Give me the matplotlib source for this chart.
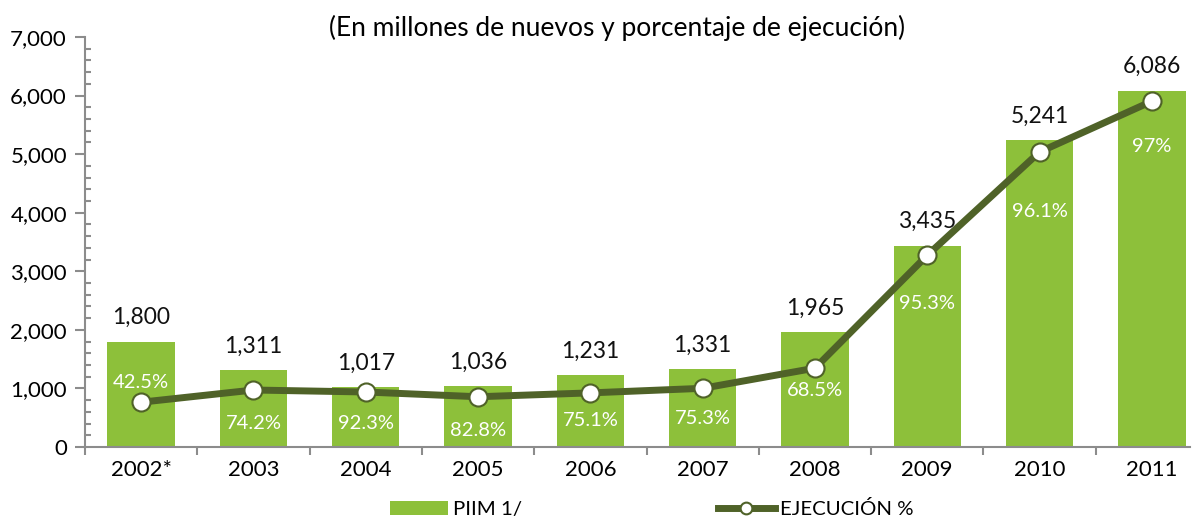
import matplotlib
matplotlib.use("Agg")
import matplotlib.pyplot as plt
from matplotlib.ticker import FuncFormatter, MultipleLocator, FixedLocator

plt.rcParams['font.family'] = ['Lato', 'DejaVu Sans']

years = ["2002*", "2003", "2004", "2005", "2006", "2007", "2008", "2009", "2010", "2011"]
piim = [1800, 1311, 1017, 1036, 1231, 1331, 1965, 3435, 5241, 6086]
ejecucion = [765, 973, 939, 858, 924, 1002, 1346, 3273, 5037, 5903]
pct_labels = ["42.5%", "74.2%", "92.3%", "82.8%", "75.1%", "75.3%", "68.5%", "95.3%", "96.1%", "97%"]

# vertical offsets (pixels) of the white % labels relative to the line markers
pct_offsets = [20, -33, -31, -34, -28, -30, -22, -48, -60, -45]

BAR_GREEN = "#8dc03a"
LINE_GREEN = "#4f6228"
AXIS_GRAY = "#8c8c8c"

fig = plt.figure(figsize=(11.98, 5.19), dpi=100)
ax = fig.add_axes([85 / 1198, 72 / 519, (1190 - 85) / 1198, (447 - 37) / 519])

x = list(range(len(years)))
bars = ax.bar(x, piim, width=0.6, color=BAR_GREEN, label="PIIM 1/", zorder=2)
line, = ax.plot(x, ejecucion, color=LINE_GREEN, lw=5, marker="o", markersize=13,
                markerfacecolor="white", markeredgecolor=LINE_GREEN, markeredgewidth=1.5,
                label="EJECUCIÓN %", zorder=3)

px = 72 / 100  # points per pixel
for i, v in enumerate(piim):
    ax.annotate(f"{v:,}", (x[i], v), xytext=(0, 24 * px), textcoords="offset points",
                ha="center", va="center", fontsize=16.5, color="#111111")
for i, v in enumerate(ejecucion):
    ax.annotate(pct_labels[i], (x[i], v), xytext=(0, pct_offsets[i] * px), textcoords="offset points",
                ha="center", va="center", fontsize=14.5, color="white", zorder=4)

ax.set_xlim(-0.5, -0.5 + (1190 - 85) / 112.3)
ax.set_ylim(0, 7000)
ax.yaxis.set_major_locator(MultipleLocator(1000))
ax.yaxis.set_minor_locator(MultipleLocator(200))
ax.yaxis.set_major_formatter(FuncFormatter(lambda v, p: f"{int(v):,}"))

ax.set_xticks(x)
ax.set_xticklabels(years)
ax.xaxis.set_minor_locator(FixedLocator([i - 0.5 for i in range(len(years) + 1)]))
ax.tick_params(axis="x", which="major", length=0, pad=9, labelsize=16)
ax.tick_params(axis="x", which="minor", length=6, color=AXIS_GRAY, width=1.5, direction="out")
ax.tick_params(axis="y", which="major", length=7, color=AXIS_GRAY, width=1.5, labelsize=16, pad=6)
ax.tick_params(axis="y", which="minor", length=4, color=AXIS_GRAY, width=1.5, direction="in")

for s in ["top", "right"]:
    ax.spines[s].set_visible(False)
for s in ["left", "bottom"]:
    ax.spines[s].set_color(AXIS_GRAY)
    ax.spines[s].set_linewidth(1.5)

fig.text(617 / 1198, 1 - 28 / 519, "(En millones de nuevos y porcentaje de ejecución)",
         ha="center", va="center", fontsize=19)

fig.legend(handles=[bars, line], loc="center", bbox_to_anchor=(652 / 1198, 1 - 509 / 519),
           ncol=2, frameon=False, fontsize=14.7, columnspacing=9.6, handlelength=2.8,
           handletextpad=0.25, borderaxespad=0, markerscale=0.65)

fig.savefig("out.png", dpi=100)
